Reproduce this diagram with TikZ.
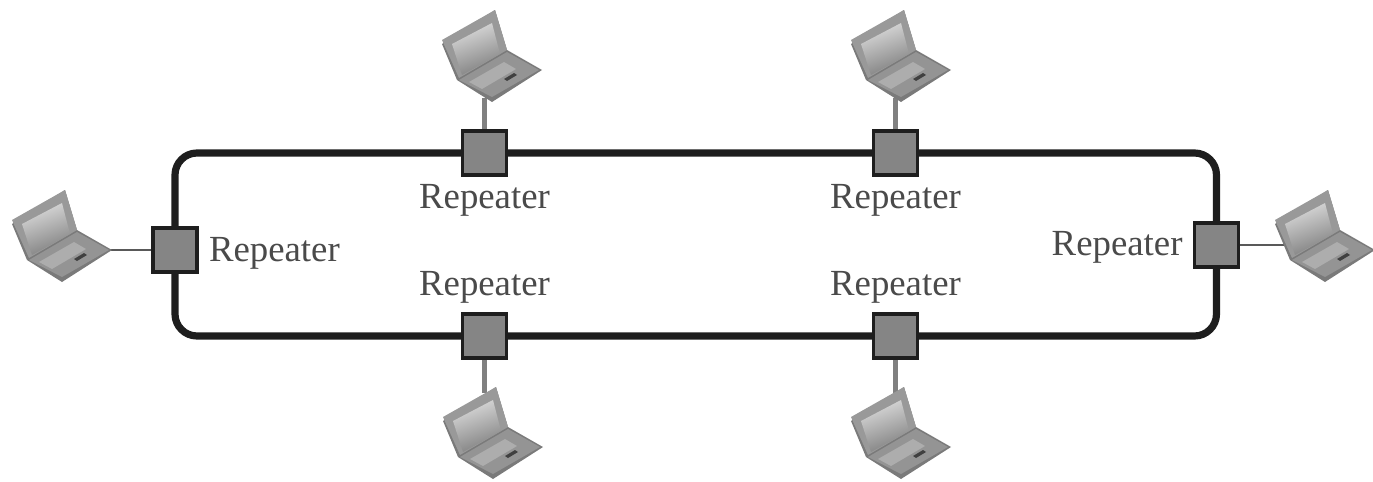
\documentclass[tikz,border=0pt]{standalone}
\usepackage{fontspec}
\setmainfont{Liberation Serif}
\usetikzlibrary{positioning}
\usetikzlibrary{backgrounds}
\definecolor{boxgray}{HTML}{858585}
\definecolor{wiregray}{HTML}{1E1E1E}
\definecolor{textgray}{HTML}{4A4A4A}
\tikzset{
	repeater/.style={draw=wiregray, fill=boxgray, line width=1.6pt, minimum size=22pt, inner sep=0pt},
	replabel/.style={text=textgray, font=\fontsize{18.4}{20}\selectfont, inner sep=0pt},
	ring/.style={draw=wiregray, line width=3.6pt, rounded corners=11pt},
	stub/.style={draw=gray, line width=2.6pt},
	thinstub/.style={draw=black!65, line width=1.4pt},
	laptop/.pic={
		% lid corner at the origin
		\fill[black!52] (0,4)--(15,40)--(50,62)--(100,30)--(65,10)--(53,-30)--cycle;
		\fill[black!40] (0,0)--(53,-30)--(65,10)--(17,38)--cycle;
		\shade[left color=black!14, right color=black!50, shading angle=20] (10,4)--(50,-17)--(58,14)--(20,35)--cycle;
		\fill[black!42] (17,40)--(65,12)--(97,30)--(50,57)--cycle;
		\fill[black!32] (27,42)--(62,22)--(74,29)--(40,49)--cycle;
		\fill[black!75] (62,39)--(72,33)--(75,35)--(65,41)--cycle;
		\coordinate (-south) at (42,58);
		\coordinate (-north) at (41,-24);
		\coordinate (-east) at (97,32);
		\coordinate (-west) at (10,25);
	},
}
\begin{document}
\begin{tikzpicture}[x=.5pt, y=-.5pt]
	\useasboundingbox (0,0) rectangle (1373,482);
	\node[repeater] (repT1) at (484.5,153) {};
	\node[repeater] (repT2) at (895.5,153) {};
	\node[repeater] (repB1) at (484.5,336) {};
	\node[repeater] (repB2) at (895.5,336) {};
	\node[repeater] (repL) at (175,250) {};
	\node[repeater] (repR) at (1216.5,245) {};
	\node[replabel, below=3.8pt of repT1] (labT1) {Repeater};
	\node[replabel, below=3.8pt of repT2] (labT2) {Repeater};
	\node[replabel, above=4.2pt of repB1] (labB1) {Repeater};
	\node[replabel, above=4.2pt of repB2] (labB2) {Repeater};
	\node[replabel, right=5pt of repL, yshift=-1.8pt] (labL) {Repeater};
	\node[replabel, left=5pt of repR, yshift=-1.3pt] (labR) {Repeater};
	\pic (lapT1) at (442,40) {laptop};
	\pic (lapT2) at (851,40) {laptop};
	\pic (lapB1) at (443,417) {laptop};
	\pic (lapB2) at (851,417) {laptop};
	\pic (lapL) at (12,220) {laptop};
	\pic (lapR) at (1275,220) {laptop};
	\begin{pgfonlayer}{background}
		\draw[ring] (repL) |- (repT1) -- (repT2) -| (repR) |- (repB2) -- (repB1) -| (repL);
		\draw[stub] (repT1) -- (repT1 |- lapT1-south);
		\draw[stub] (repT2) -- (repT2 |- lapT2-south);
		\draw[stub] (repB1) -- (repB1 |- lapB1-north);
		\draw[stub] (repB2) -- (repB2 |- lapB2-north);
		\draw[thinstub] (repL) -- (repL -| lapL-east);
		\draw[thinstub] (repR) -- (repR -| lapR-west);
	\end{pgfonlayer}
\end{tikzpicture}
\end{document}
